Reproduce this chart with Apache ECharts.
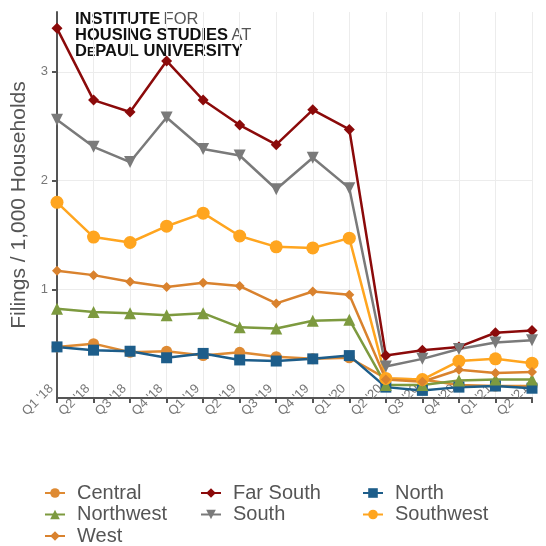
<!DOCTYPE html>
<html>
<head>
<meta charset="utf-8">
<script src="https://cdn.jsdelivr.net/npm/echarts@6/dist/echarts.min.js"></script>
<style>html,body{margin:0;padding:0;background:#fff}#c{width:546px;height:546px}</style>
</head>
<body>
<div id="c"></div>
<script>
var quarters = ["Q1 '18","Q2 '18","Q3 '18","Q4 '18","Q1 '19","Q2 '19","Q3 '19","Q4 '19","Q1 '20","Q2 '20","Q3 '20","Q4 '20","Q1 '21","Q2 '21"];
var central   = [0.47,0.50,0.42,0.43,0.39,0.42,0.38,0.36,0.37,0.18,0.17,0.12,0.11,0.11];
var farSouth  = [3.40,2.74,2.63,3.10,2.74,2.51,2.33,2.65,2.47,0.39,0.44,0.47,0.60,0.62];
var north     = [0.47,0.44,0.43,0.37,0.41,0.35,0.34,0.36,0.39,0.10,0.07,0.10,0.11,0.09];
var northwest = [0.82,0.79,0.78,0.76,0.78,0.65,0.64,0.71,0.72,0.12,0.12,0.16,0.17,0.17];
var south     = [2.56,2.31,2.17,2.58,2.29,2.23,1.92,2.21,1.93,0.29,0.36,0.45,0.51,0.53];
var southwest = [1.80,1.48,1.43,1.58,1.70,1.49,1.39,1.38,1.47,0.18,0.17,0.34,0.36,0.32];
var west      = [1.17,1.13,1.07,1.02,1.06,1.03,0.87,0.98,0.95,0.17,0.15,0.26,0.23,0.24];
var yTicks = [1,2,3];

var chart = echarts.init(document.getElementById('c'));
function s(name, data, color, symbol, size, rot){
  return {name:name, type:'line', data:data, symbol:symbol, symbolSize:size, symbolRotate:rot||0,
    lineStyle:{width:2.5,color:color}, itemStyle:{color:color}, emphasis:{disabled:true}, animation:false};
}
var legendText = {color:'#555', fontSize:20, lineHeight:20, fontFamily:'Liberation Sans, Arial, sans-serif', padding:[0,0,0,7]};
function lg(left, names){
  return {left:left, top:483, height:80, padding:0, orient:'vertical', itemGap:1.5, itemWidth:20, itemHeight:12, textStyle:legendText, data:names};
}
chart.setOption({
  animation:false,
  grid:{left:57, right:14, top:12, bottom:148},
  graphic:[{type:'text', left:75, top:11, style:{
    text:'{b|INSTITUTE} {l|FOR}\n{b|HOUSING STUDIES} {l|AT}\n{b|D}{s|E}{b|PAUL UNIVERSITY}',
    rich:{
      b:{fontFamily:'Liberation Sans, Arial', fontWeight:'bold', fontSize:16.5, fill:'#111', lineHeight:16},
      l:{fontFamily:'Liberation Sans, Arial', fontWeight:'normal', fontSize:16.5, fill:'#555', lineHeight:16},
      s:{fontFamily:'Liberation Sans, Arial', fontWeight:'bold', fontSize:12.5, fill:'#111', lineHeight:16, verticalAlign:'bottom'}
    }}}],
  legend:[
    lg(44, ['Central','Northwest','West']),
    lg(200, ['Far South','South']),
    lg(362, ['North','Southwest'])
  ],
  xAxis:{type:'category', data:quarters, boundaryGap:false,
    axisLine:{lineStyle:{color:'#555', width:2}},
    axisTick:{show:true, length:5, lineStyle:{color:'#555', width:2}},
    splitLine:{show:true, lineStyle:{color:'#ececec', width:1}},
    axisLabel:{rotate:45, color:'#777', fontSize:13, fontFamily:'Liberation Sans, Arial', align:'center', verticalAlign:'middle', margin:-17, padding:[0,54,0,0], interval:0}},
  yAxis:{type:'value', min:0, max:3.55, interval:1,
    name:'Filings / 1,000 Households', nameLocation:'middle', nameGap:18, nameRotate:90,
    nameTextStyle:{color:'#555', fontSize:21, fontFamily:'Liberation Sans, Arial'},
    axisLine:{show:true, lineStyle:{color:'#555', width:2}},
    axisTick:{show:true, length:5, lineStyle:{color:'#555', width:2}, customValues:yTicks},
    splitLine:{show:true, lineStyle:{color:'#ececec', width:1}},
    axisLabel:{color:'#777', fontSize:13, fontFamily:'Liberation Sans, Arial', margin:9, customValues:yTicks}},
  series:[
    s('Central', central, '#de8a33', 'circle', 11),
    s('Far South', farSouth, '#8b0a0a', 'diamond', 11),
    s('North', north, '#1d5d8a', 'rect', 11),
    s('Northwest', northwest, '#7d9a3f', 'triangle', 12),
    s('South', south, '#7a7a7a', 'triangle', 12, 180),
    s('Southwest', southwest, '#ffa51f', 'circle', 13),
    s('West', west, '#d9822e', 'diamond', 10)
  ]
});
</script>
</body>
</html>
